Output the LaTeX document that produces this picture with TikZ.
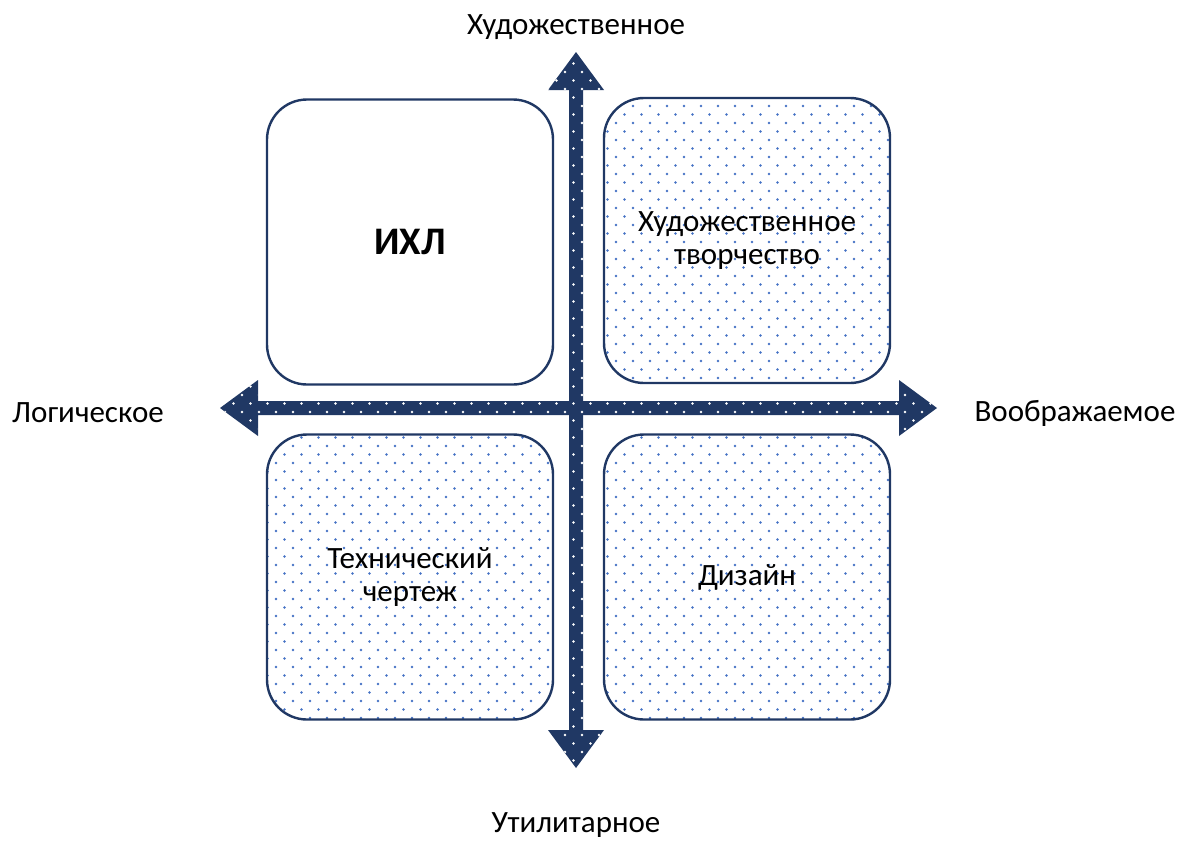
\documentclass[tikz,border=0pt]{standalone}
\usepackage{fontspec}
\setmainfont{Carlito}
\usetikzlibrary{patterns,calc}
\definecolor{axisnavy}{HTML}{203864}
\definecolor{dotblue}{HTML}{4472C4}
\pgfdeclarepatternformonly{stagdots}{\pgfqpoint{-1pt}{-1pt}}{\pgfqpoint{9.5pt}{9.5pt}}{\pgfqpoint{8.5pt}{8.5pt}}{%
  \pgfpathcircle{\pgfqpoint{2pt}{2pt}}{0.7pt}
  \pgfpathcircle{\pgfqpoint{6.25pt}{6.25pt}}{0.7pt}
  \pgfusepath{fill}}
\tikzset{
  qbox/.style={draw=axisnavy, line width=1.2pt, rounded corners=20pt, minimum width=143pt, minimum height=142.5pt, align=center, inner sep=2pt},
  dotbox/.style={qbox, pattern=stagdots, pattern color=dotblue},
  axisarrow/.style={preaction={fill=axisnavy}, pattern=stagdots, pattern color=white},
  lbl/.style={font=\fontsize{15.5}{16.5}\selectfont},
}
\begin{document}
\begin{tikzpicture}[x=0.5pt, y=-0.5pt, every node/.style={lbl}]
  \useasboundingbox (0,0) rectangle (1181,841);
  % quadrants
  \node[qbox, font=\fontsize{19.5}{21}\selectfont\bfseries] (ikhl) at (410,242) {ИХЛ};
  \node[dotbox] (art) at (747,240.5) {Художественное\\творчество};
  \node[dotbox] (tech) at (410,577) {Технический\\чертеж};
  \node[dotbox] (design) at (747,577) {Дизайн};
  % axes
  \coordinate (c) at (576,408);
  \fill[axisarrow] (569,90) -- (548,90) -- (576,52) -- (604,90) -- (583,90)
     -- (583,730) -- (604,730) -- (576,768) -- (548,730) -- (569,730) -- cycle;
  \fill[axisarrow] (258,401) -- (258,380) -- (220,408) -- (258,436) -- (258,415)
     -- (899,415) -- (899,436) -- (937,408) -- (899,380) -- (899,401) -- cycle;
  % axis labels
  \node (up) at (576,27) {Художественное};
  \node (down) at (576,825) {Утилитарное};
  \node (left) at (88,413) {Логическое};
  \node (right) at (1075,413) {Воображаемое};
\end{tikzpicture}
\end{document}
